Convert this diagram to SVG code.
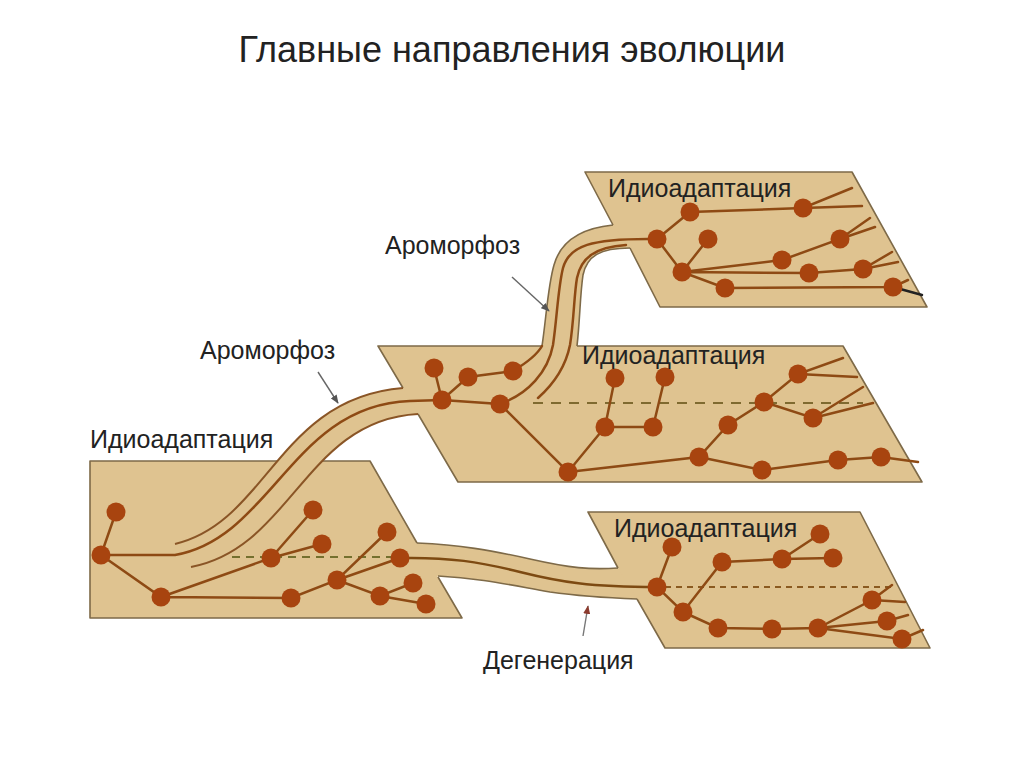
<svg xmlns="http://www.w3.org/2000/svg" width="1024" height="767" viewBox="0 0 1024 767">
<style>
.plate{fill:#dfc390;stroke:none}
.band{fill:#dfc390;stroke:none}
.edge{fill:none;stroke:#7e6a48;stroke-width:1.6;stroke-linejoin:round}
.bedge{fill:none;stroke:#8a5526;stroke-width:2}
.ln{fill:none;stroke:#8e4a14;stroke-width:2.5;stroke-linecap:round}
.dash{fill:none;stroke:#7f6a30;stroke-width:2.2}
.dot{fill:#a8440f}
.lbl{font-family:"Liberation Sans",Arial,sans-serif;font-size:25px;fill:#222}
.title{font-family:"Liberation Sans",Arial,sans-serif;font-size:36px;fill:#222}
.arr{stroke:#666;stroke-width:1.4;fill:none}
</style>
<defs>
<marker id="ah" viewBox="0 0 10 8" refX="9" refY="4" markerWidth="9" markerHeight="7" orient="auto" markerUnits="userSpaceOnUse"><path d="M0,0 L10,4 L0,8 z" fill="#555"/></marker>
<marker id="ahr" viewBox="0 0 10 8" refX="9" refY="4" markerWidth="9" markerHeight="7" orient="auto" markerUnits="userSpaceOnUse"><path d="M0,0 L10,4 L0,8 z" fill="#8c3b2e"/></marker>
</defs>
<rect width="1024" height="767" fill="#ffffff"/>
<text class="title" x="512" y="62" text-anchor="middle">Главные направления эволюции</text>

<g id="bands">
<path class="band" d="M175,544 C268,522 278,398 403,388 L440,388 L440,414 L418,414 C305,420 292,548 191,567 Z"/>
<path class="band" d="M542,346 C546,320 548,285 554,265 C561,240 583,228 613,225 L640,225 L640,248 L630,248 C600,248 587,256 583,275 C580,295 580,320 577,346 L577,360 L542,360 Z"/>
<path class="band" d="M417,543 C460,545 490,550 530,559 C570,568 590,570 618,568 L650,569 L650,599 L637,599 C610,598 585,597 550,592 C510,585 480,578 438,576 L420,576 L410,545 Z"/>
</g>

<g id="plate-left">
<polygon class="plate" points="90,461 370,461 417,543 438,577 462,618 90,618"/>
<path class="edge" d="M277,461 L90,461 L90,618 L462,618 L438,577 M417,543 L370,461 L322,461"/>
</g>
<g id="plate-middle">
<polygon class="plate" points="378,346 843,346 922,482 458,482 418,414 403,388"/>
<path class="edge" d="M403,388 L378,346 L542,346 M577,346 L843,346 L922,482 L458,482 L418,414"/>
</g>
<g id="plate-top">
<polygon class="plate" points="585,172 852,172 927,307 660,307 630,248 613,225"/>
<path class="edge" d="M613,225 L585,172 L852,172 L927,307 L660,307 L630,248"/>
</g>
<g id="plate-bottom">
<polygon class="plate" points="588,512 860,512 930,648 665,648 637,599 618,568"/>
<path class="edge" d="M618,568 L588,512 L860,512 L930,648 L665,648 L637,599"/>
</g>

<g id="band-edges">
<path class="bedge" d="M175,544 C268,522 278,398 403,388"/>
<path class="bedge" d="M191,567 C292,548 305,420 418,414"/>
<path class="edge" d="M542,346 C546,320 548,285 554,265 C561,240 583,228 613,225"/>
<path class="edge" d="M577,346 C580,320 580,295 583,275 C587,256 600,248 630,248"/>
<path class="edge" d="M417,543 C460,545 490,550 530,559 C570,568 590,570 618,568"/>
<path class="edge" d="M438,576 C480,578 510,585 550,592 C585,597 610,598 637,599"/>
</g>

<g id="dashes">
<line class="dash" x1="232" y1="557" x2="392" y2="557" stroke-dasharray="8 6" style="stroke:#74702e"/>
<line class="dash" x1="533" y1="403" x2="863" y2="403" stroke-dasharray="10 8"/>
<line class="dash" x1="665" y1="587" x2="893" y2="587" stroke-dasharray="6 5" style="stroke:#8a5a20"/>
</g>

<g id="connectors">
<path class="ln" d="M101,555 L175,555 C272,538 292,405 410,401 L442,400"/>
<path class="ln" d="M500,404 C528,394 548,372 553,345 C557,318 558,288 563,268 C569,246 590,238 657,239"/>
<path class="ln" d="M513,371 C528,362 537,355 542,346"/>
<path class="ln" d="M538,398 C556,382 566,365 570,345 C574,320 574,295 577,278 C581,258 595,247 626,245"/>
<path class="ln" d="M400,558 C450,557 480,562 520,572 C560,582 590,587 657,587" style="stroke:#7d4a12"/>
<path class="ln" d="M116,512 L101,555 L161,597 L271,558 L313,510 M271,558 L322,544 M161,597 L291,598 L337,580 L387,532 M337,580 L400,558 M337,580 L380,596 L413,583 M380,596 L426,604"/>
<path class="ln" d="M434,368 L442,400 L468,377 L513,371 M442,400 L500,404 L568,472 L605,427 L615,378 M605,427 L653,427 L665,377 M568,472 L699,457 L728,425 L764,402 L798,374 L843,358 M798,374 L857,377 M764,402 L813,418 L863,387 M813,418 L873,403 M699,457 L762,470 L838,460 L881,457 L918,462"/>
<path class="ln" d="M657,239 L690,212 L803,208 L852,188 M803,208 L862,206 M657,239 L682,272 L708,239 M682,272 L782,260 L840,239 L870,218 M840,239 L875,227 M682,272 L809,273 L863,269 L892,252 M863,269 L898,262 M682,272 L725,288 L893,287 L908,280"/>
<path class="ln" d="M893,287 L922,295" style="stroke:#222"/>
<path class="ln" d="M672,547 L657,587 L683,612 L722,562 L782,559 L820,534 M782,559 L833,558 M683,612 L718,628 L772,629 L818,628 L872,600 L892,585 M872,600 L905,602 M818,628 L887,621 L908,615 M818,628 L902,639 L923,630"/>
<line class="arr" x1="512" y1="277" x2="549" y2="311" marker-end="url(#ah)"/>
<line class="arr" x1="318" y1="372" x2="338" y2="403" marker-end="url(#ah)"/>
<line class="arr" x1="583" y1="636" x2="588" y2="606" marker-end="url(#ahr)" style="stroke:#777"/>
</g>

<g id="nodes-left">
<circle class="dot" cx="116" cy="512" r="9.5"/><circle class="dot" cx="101" cy="555" r="9.5"/><circle class="dot" cx="161" cy="597" r="9.5"/><circle class="dot" cx="271" cy="558" r="9.5"/><circle class="dot" cx="313" cy="510" r="9.5"/><circle class="dot" cx="322" cy="544" r="9.5"/><circle class="dot" cx="291" cy="598" r="9.5"/><circle class="dot" cx="337" cy="580" r="9.5"/><circle class="dot" cx="387" cy="532" r="9.5"/><circle class="dot" cx="400" cy="558" r="9.5"/><circle class="dot" cx="380" cy="596" r="9.5"/><circle class="dot" cx="413" cy="583" r="9.5"/><circle class="dot" cx="426" cy="604" r="9.5"/>
</g>
<g id="nodes-middle">
<circle class="dot" cx="434" cy="368" r="9.5"/><circle class="dot" cx="468" cy="377" r="9.5"/><circle class="dot" cx="513" cy="371" r="9.5"/><circle class="dot" cx="442" cy="400" r="9.5"/><circle class="dot" cx="500" cy="404" r="9.5"/><circle class="dot" cx="568" cy="472" r="9.5"/><circle class="dot" cx="605" cy="427" r="9.5"/><circle class="dot" cx="615" cy="378" r="9.5"/><circle class="dot" cx="653" cy="427" r="9.5"/><circle class="dot" cx="665" cy="377" r="9.5"/><circle class="dot" cx="699" cy="457" r="9.5"/><circle class="dot" cx="728" cy="425" r="9.5"/><circle class="dot" cx="764" cy="402" r="9.5"/><circle class="dot" cx="798" cy="374" r="9.5"/><circle class="dot" cx="813" cy="418" r="9.5"/><circle class="dot" cx="762" cy="470" r="9.5"/><circle class="dot" cx="838" cy="460" r="9.5"/><circle class="dot" cx="881" cy="457" r="9.5"/>
</g>
<g id="nodes-top">
<circle class="dot" cx="657" cy="239" r="9.5"/><circle class="dot" cx="690" cy="212" r="9.5"/><circle class="dot" cx="708" cy="239" r="9.5"/><circle class="dot" cx="682" cy="272" r="9.5"/><circle class="dot" cx="725" cy="288" r="9.5"/><circle class="dot" cx="782" cy="260" r="9.5"/><circle class="dot" cx="803" cy="208" r="9.5"/><circle class="dot" cx="809" cy="273" r="9.5"/><circle class="dot" cx="840" cy="239" r="9.5"/><circle class="dot" cx="863" cy="269" r="9.5"/><circle class="dot" cx="893" cy="287" r="9.5"/>
</g>
<g id="nodes-bottom">
<circle class="dot" cx="657" cy="587" r="9.5"/><circle class="dot" cx="672" cy="547" r="9.5"/><circle class="dot" cx="683" cy="612" r="9.5"/><circle class="dot" cx="722" cy="562" r="9.5"/><circle class="dot" cx="782" cy="559" r="9.5"/><circle class="dot" cx="820" cy="534" r="9.5"/><circle class="dot" cx="833" cy="558" r="9.5"/><circle class="dot" cx="718" cy="628" r="9.5"/><circle class="dot" cx="772" cy="629" r="9.5"/><circle class="dot" cx="818" cy="628" r="9.5"/><circle class="dot" cx="872" cy="600" r="9.5"/><circle class="dot" cx="887" cy="621" r="9.5"/><circle class="dot" cx="902" cy="639" r="9.5"/>
</g>

<g id="labels">
<text class="lbl" x="90" y="448">Идиоадаптация</text>
<text class="lbl" x="582" y="364">Идиоадаптация</text>
<text class="lbl" x="608" y="197">Идиоадаптация</text>
<text class="lbl" x="614" y="537">Идиоадаптация</text>
<text class="lbl" x="385" y="254">Ароморфоз</text>
<text class="lbl" x="200" y="359">Ароморфоз</text>
<text class="lbl" x="483" y="669">Дегенерация</text>
</g>
</svg>
